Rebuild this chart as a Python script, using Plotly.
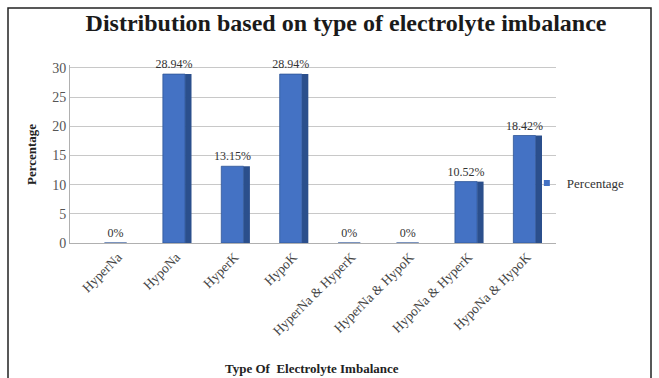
import plotly.graph_objects as go

# Electrolyte imbalance categories and their share of patients (%)
categories = ["HyperNa", "HypoNa", "HyperK", "HypoK",
              "HyperNa & HyperK", "HyperNa & HypoK",
              "HypoNa & HyperK", "HypoNa & HypoK"]
percentages = [0, 28.94, 13.15, 28.94, 0, 0, 10.52, 18.42]
value_labels = ["0%", "28.94%", "13.15%", "28.94%", "0%", "0%", "10.52%", "18.42%"]
y_ticks = [0, 5, 10, 15, 20, 25, 30]

SERIF = "Liberation Serif, Times New Roman, serif"
FACE = "#4472C4"
SIDE = "#2B4F8C"

# plot-area geometry in pixels, used to place the frame and axis titles
L, R, T, B = 70, 103, 65, 135
W, H = 659, 378
PW, PH = W - L - R, H - T - B


def px_to_paper_x(px):
    return (px - L) / PW


def px_to_paper_y(py):
    return (H - B - py) / PH


fig = go.Figure()

# darker right-hand face gives the columns a little depth
fig.add_trace(go.Bar(
    x=categories, y=percentages, width=0.11, offset=0.15,
    marker=dict(color=SIDE, line=dict(width=0)),
    showlegend=False, hoverinfo="skip",
))

# front face of each column with its value label
fig.add_trace(go.Bar(
    x=categories, y=percentages, name="Percentage",
    width=0.38, offset=-0.23, showlegend=False,
    marker=dict(color=FACE, line=dict(color="#2F5597", width=0.8)),
    text=value_labels, textposition="outside", cliponaxis=False,
    constraintext="none",
    textfont=dict(family=SERIF, size=12, color="#333333"),
))

# compact legend entry with a small square swatch
fig.add_trace(go.Scatter(
    x=[None], y=[None], mode="markers", name="Percentage",
    marker=dict(symbol="square", size=6, color=FACE),
))

fig.update_layout(
    width=W, height=H,
    margin=dict(l=L, r=R, t=T, b=B, autoexpand=False),
    paper_bgcolor="white", plot_bgcolor="white",
    barmode="overlay",
    title=dict(text="<b>Distribution based on type of electrolyte imbalance</b>",
               x=0.568, xref="paper", xanchor="center",
               y=0.94, yanchor="middle",
               font=dict(family=SERIF, size=24, color="#1a1a1a")),
    font=dict(family=SERIF, color="#333333"),
    legend=dict(x=0.94, xanchor="left", y=px_to_paper_y(183), yanchor="middle",
                font=dict(family=SERIF, size=13, color="#333333"),
                itemwidth=30, bgcolor="rgba(0,0,0,0)"),
    xaxis=dict(
        range=[-0.82, 7.5], tickangle=-45, automargin=False,
        tickfont=dict(family=SERIF, size=13.5, color="#444444"),
        showline=True, linecolor="#b0b0b0", ticks="",
    ),
    yaxis=dict(
        range=[0, 30.5], tickvals=y_ticks, automargin=False,
        tickfont=dict(family=SERIF, size=14, color="#555555"),
        showgrid=True, gridcolor="#c8c8c8", gridwidth=1,
        showline=True, linecolor="#b0b0b0", zeroline=False,
    ),
    annotations=[
        dict(text="<b>Type Of  Electrolyte Imbalance</b>",
             xref="paper", yref="paper",
             x=px_to_paper_x(312), y=px_to_paper_y(368),
             xanchor="center", yanchor="middle", showarrow=False,
             font=dict(family=SERIF, size=13, color="#222222")),
        dict(text="<b>Percentage</b>", textangle=-90,
             xref="paper", yref="paper",
             x=px_to_paper_x(31), y=px_to_paper_y(155),
             xanchor="center", yanchor="middle", showarrow=False,
             font=dict(family=SERIF, size=13, color="#222222")),
    ],
    shapes=[dict(type="rect", xref="paper", yref="paper",
                 x0=px_to_paper_x(8), x1=px_to_paper_x(651),
                 y0=px_to_paper_y(385), y1=px_to_paper_y(8),
                 line=dict(color="#222222", width=1.5),
                 fillcolor="rgba(0,0,0,0)", layer="below")],
)

fig.write_html("out.html")
